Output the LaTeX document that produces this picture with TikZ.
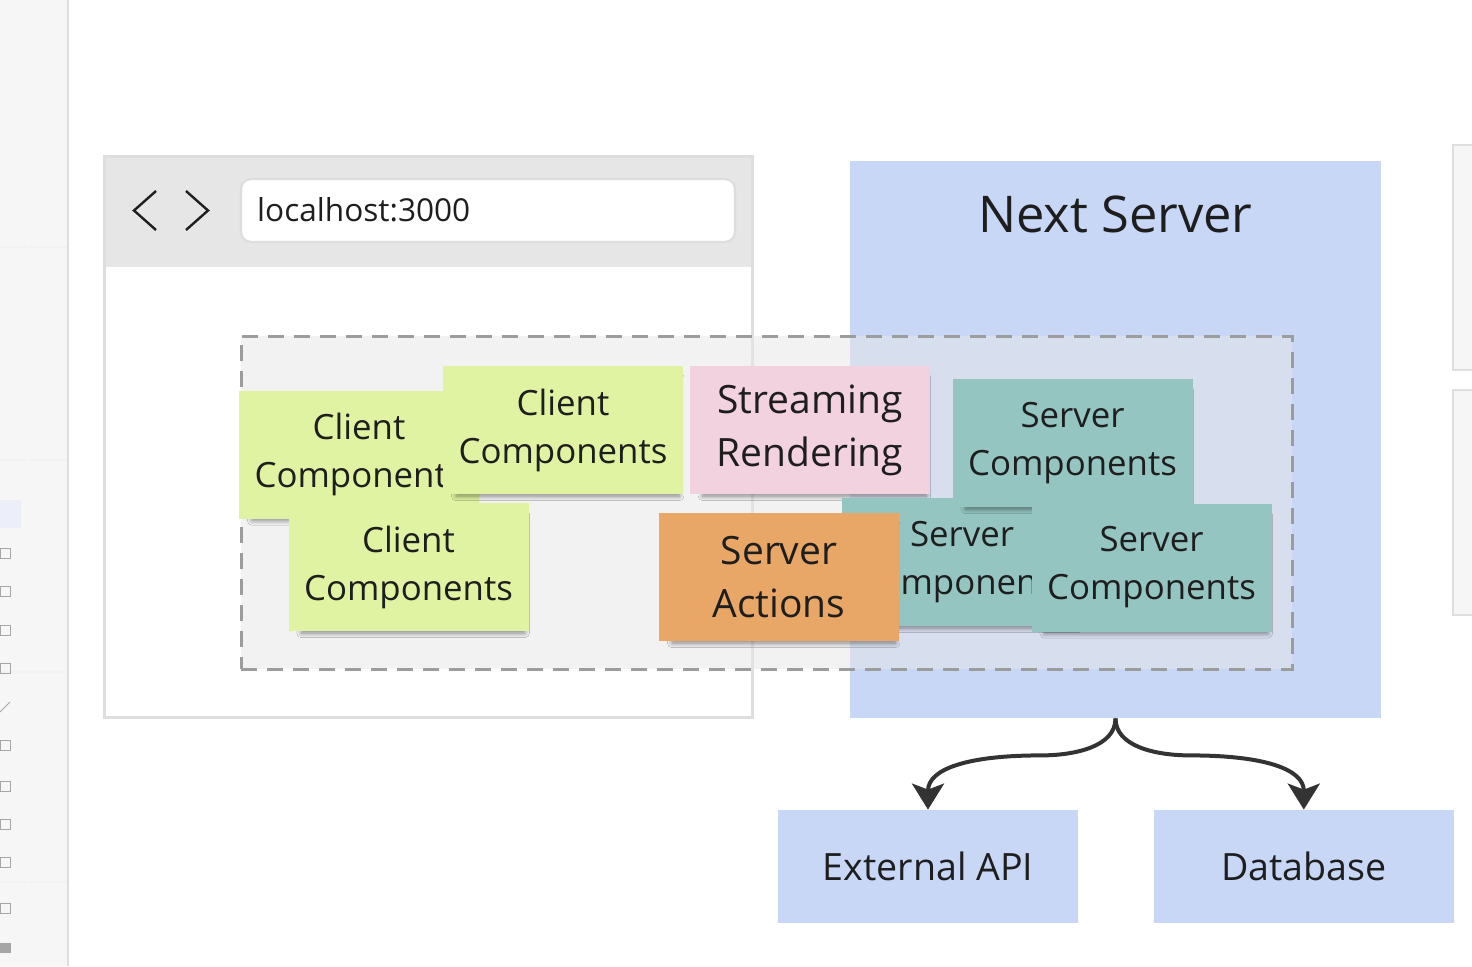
\documentclass[tikz,border=0pt]{standalone}
\usepackage{fontspec}
\setmainfont{Open Sans}
\usetikzlibrary{positioning,calc,arrows.meta,shadows.blur}

\definecolor{notegreen}{HTML}{E0F3A2}
\definecolor{notepink}{HTML}{F1D2DE}
\definecolor{noteteal}{HTML}{94C5C0}
\definecolor{noteorange}{HTML}{E8A766}
\definecolor{serverblue}{HTML}{C9D7F7}
\definecolor{bargray}{HTML}{E6E6E6}
\definecolor{edgegray}{HTML}{DEDEDE}
\definecolor{panelgray}{HTML}{F6F6F6}
\definecolor{dashgray}{HTML}{9C9C9C}
\definecolor{arrowdark}{HTML}{333333}
\definecolor{textdark}{HTML}{1E1E1E}
\definecolor{toolpick}{HTML}{ECEEFA}

\begin{document}
\begin{tikzpicture}[x=0.5pt,y=-0.5pt,
  note/.style={rectangle, minimum width=120pt, minimum height=64pt, inner sep=0pt,
    align=center, text=textdark, font=\fontsize{17.4pt}{24pt}\selectfont,
    blur shadow={shadow xshift=2.5pt, shadow yshift=-3.5pt, shadow opacity=45, shadow scale=0.93,
      shadow blur radius=2.5pt, shadow blur steps=10}},
  bignote/.style={note, font=\fontsize{19.5pt}{26.5pt}\selectfont},
  box/.style={rectangle, fill=serverblue, minimum width=150pt, minimum height=56.5pt,
    inner sep=0pt, text=textdark, font=\fontsize{18.8pt}{22pt}\selectfont},
  flow/.style={draw=arrowdark, line width=2pt, -{Stealth[length=13pt,width=16pt,inset=3pt]}},
  chevron/.style={draw=textdark, line width=1.2pt}]
  \useasboundingbox (0,0) rectangle (1472,966);
  \fill[white] (0,0) rectangle (1472,966);
  %side panel of the board
  \fill[panelgray] (0,0) rectangle (68,966);
  \foreach \y in {37,80,122,165,205,290,333,375,418,500,545,585,625,710,750,795,835,920}
    \draw[gray!6, line width=0.5pt] (0,\y) -- (68,\y);
  \foreach \y in {247,460,672,882}
    \draw[gray!10, line width=0.6pt] (0,\y) -- (68,\y);
  \draw[gray!6, line width=0.5pt] (27,0) -- (27,966);
  \draw[edgegray, line width=1pt] (68,0) -- (68,966);
  \fill[toolpick] (0,500) rectangle (21,528);
  \foreach \y in {553,591,630,668,745,786,824,862,908}
    \draw[gray!70, line width=0.5pt] (0,\y-5) rectangle (10,\y+5);
  \draw[gray!70, line width=0.5pt] (0,712) -- (10,702);
  \fill[gray!70] (0,943) rectangle (11,953);
  %panels cut off at the right
  \fill[panelgray] (1453,145) rectangle (1472,370);
  \draw[edgegray, line width=1pt] (1472,145) -- (1453,145) -- (1453,370) -- (1472,370);
  \fill[panelgray] (1453,390) rectangle (1472,615);
  \draw[edgegray, line width=1pt] (1472,390) -- (1453,390) -- (1453,615) -- (1472,615);

  %browser window
  \node[fill=white, minimum width=323.5pt, minimum height=280pt, inner sep=0pt] (browser) at (428.5,437) {};
  \node[fill=bargray, minimum width=323.5pt, minimum height=55pt, inner sep=0pt, anchor=north] (bar) at (browser.north) {};
  \draw[edgegray, line width=1.2pt] (browser.north west) rectangle (browser.south east);
  \draw[chevron] (156,191) -- (134,210.5) -- (156,230);
  \draw[chevron] (186,191) -- (208,210.5) -- (186,230);
  \node[draw=edgegray, line width=1.2pt, fill=white, rounded corners=5pt, minimum width=247pt,
    minimum height=31.5pt, inner sep=0pt] (url) at (488,210.5) {};
  \node[anchor=base west, inner sep=0pt, text=textdark, font=\fontsize{15.8pt}{19pt}\selectfont]
    (urltext) at ($(url.west)+(17,10.5)$) {localhost:3000};

  %server side
  \node[fill=serverblue, minimum width=265.5pt, minimum height=278.5pt, inner sep=0pt] (server) at (1115.5,439.5) {};
  \node[anchor=base, inner sep=0pt, text=textdark, font=\fontsize{25.3pt}{30pt}\selectfont]
    (title) at ($(server.north)+(0,72)$) {Next Server};

  %dashed area shared by both sides
  \node[draw=dashgray, line width=1.5pt, dash pattern=on 8pt off 5pt, fill=bargray, fill opacity=0.5,
    minimum width=525.5pt, minimum height=166.5pt, inner sep=0pt] (zone) at (766.5,502.5) {};

  %client notes
  \node[note, fill=notegreen] (c1) at (359,454.5) {Client\\Components};
  \node[note, fill=notegreen] (c2) at ($(c1)+(204,-24.5)$) {Client\\Components};
  \node[note, fill=notegreen] (c3) at ($(c1)+(49.5,112.5)$) {Client\\Components};
  \node[bignote, fill=notepink, right=3pt of c2] (sr) {Streaming\\Rendering};
  %server notes
  \node[note, fill=noteteal] (s2) at (962,562) {Server\\Components};
  \node[note, fill=noteteal] (s1) at ($(s2)+(110.5,-119)$) {Server\\Components};
  \node[bignote, fill=noteorange] (sa) at ($(s2)+(-183,15)$) {Server\\Actions};
  \node[note, fill=noteteal] (s3) at ($(s2)+(189.5,5.5)$) {Server\\Components};

  %backends
  \node[box] (api) at (928,866.5) {External API};
  \node[box, right=37.5pt of api] (db) {Database};

  %arrows out of the server
  \draw[flow] (server.south) .. controls +(0,28) and +(35,0) .. ($(server.south)+(-75,37)$)
    .. controls +(-75,0) and +(0,-40) .. (api.north);
  \draw[flow] (server.south) .. controls +(0,28) and +(-35,0) .. ($(server.south)+(75,37)$)
    .. controls +(75,0) and +(0,-40) .. (db.north);
\end{tikzpicture}
\end{document}
